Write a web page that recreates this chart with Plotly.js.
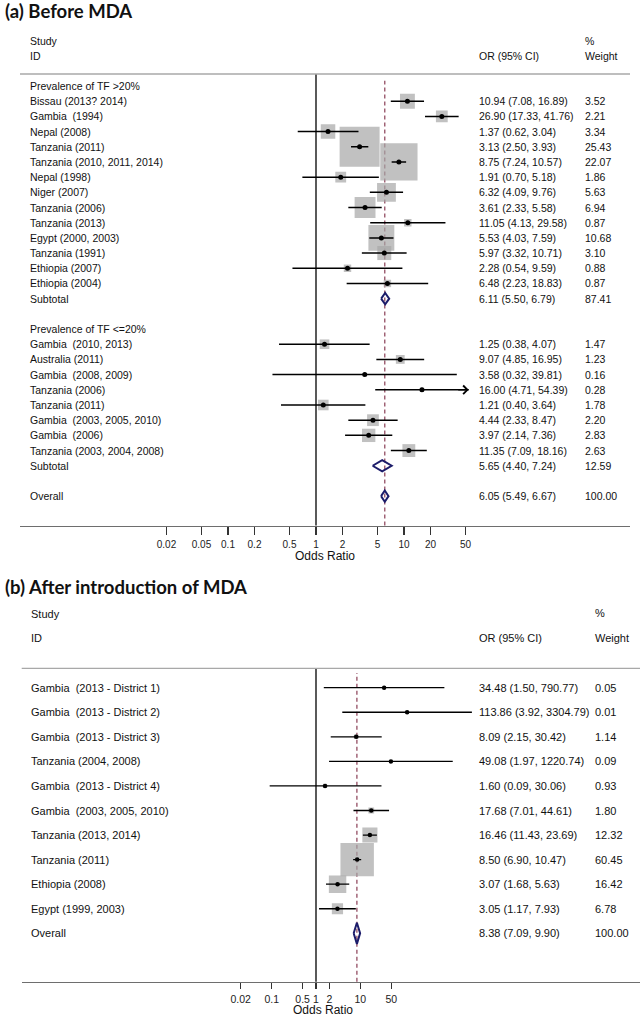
<!DOCTYPE html>
<html>
<head>
<meta charset="utf-8">
<script src="https://cdn.plot.ly/plotly-3.0.1.min.js"></script>
<style>html,body{margin:0;padding:0;background:#fff}#chart{width:644px;height:1019px}</style>
</head>
<body>
<div id="chart"></div>
<script>
// ---------- Panel (a): Before MDA ----------
const labelsA = ["Prevalence of TF >20%", "Bissau (2013? 2014)", "Gambia\u00a0 (1994)", "Nepal (2008)", "Tanzania (2011)",
  "Tanzania (2010, 2011, 2014)", "Nepal (1998)", "Niger (2007)", "Tanzania (2006)", "Tanzania (2013)", "Egypt (2000, 2003)",
  "Tanzania (1991)", "Ethiopia (2007)", "Ethiopia (2004)", "Subtotal", "", "Prevalence of TF <=20%", "Gambia\u00a0 (2010, 2013)",
  "Australia (2011)", "Gambia\u00a0 (2008, 2009)", "Tanzania (2006)", "Tanzania (2011)", "Gambia\u00a0 (2003, 2005, 2010)",
  "Gambia\u00a0 (2006)", "Tanzania (2003, 2004, 2008)", "Subtotal", "", "Overall"];
const kindA = ["head", "study", "study", "study", "study", "study", "study", "study", "study", "study", "study", "study", "study", "study",
  "pooled", "blank", "head", "study", "study", "study", "study", "study", "study", "study", "study", "pooled", "blank", "pooled"];
const orA = [null, 10.94, 26.90, 1.37, 3.13, 8.75, 1.91, 6.32, 3.61, 11.05, 5.53, 5.97, 2.28, 6.48, 6.11, null, null,
  1.25, 9.07, 3.58, 16.00, 1.21, 4.44, 3.97, 11.35, 5.65, null, 6.05];
const loA = [null, 7.08, 17.33, 0.62, 2.50, 7.24, 0.70, 4.09, 2.33, 4.13, 4.03, 3.32, 0.54, 2.23, 5.50, null, null,
  0.38, 4.85, 0.32, 4.71, 0.40, 2.33, 2.14, 7.09, 4.40, null, 5.49];
const hiA = [null, 16.89, 41.76, 3.04, 3.93, 10.57, 5.18, 9.76, 5.58, 29.58, 7.59, 10.71, 9.59, 18.83, 6.79, null, null,
  4.07, 16.95, 39.81, 54.39, 3.64, 8.47, 7.36, 18.16, 7.24, null, 6.67];
const weightA = [null, 3.52, 2.21, 3.34, 25.43, 22.07, 1.86, 5.63, 6.94, 0.87, 10.68, 3.10, 0.88, 0.87, 87.41, null, null,
  1.47, 1.23, 0.16, 0.28, 1.78, 2.20, 2.83, 2.63, 12.59, null, 100.00];
const ticksA = [0.02, 0.05, 0.1, 0.2, 0.5, 1, 2, 5, 10, 20, 50];
const tickTextA = ["0.02", "0.05", "0.1", "0.2", "0.5", "1", "2", "5", "10", "20", "50"];

// ---------- Panel (b): After introduction of MDA ----------
const labelsB = ["Gambia\u00a0 (2013 - District 1)", "Gambia\u00a0 (2013 - District 2)", "Gambia\u00a0 (2013 - District 3)",
  "Tanzania (2004, 2008)", "Gambia\u00a0 (2013 - District 4)", "Gambia\u00a0 (2003, 2005, 2010)", "Tanzania (2013, 2014)",
  "Tanzania (2011)", "Ethiopia (2008)", "Egypt (1999, 2003)", "Overall"];
const kindB = ["study", "study", "study", "study", "study", "study", "study", "study", "study", "study", "pooled"];
const orB = [34.48, 113.86, 8.09, 49.08, 1.60, 17.68, 16.46, 8.50, 3.07, 3.05, 8.38];
const loB = [1.50, 3.92, 2.15, 1.97, 0.09, 7.01, 11.43, 6.90, 1.68, 1.17, 7.09];
const hiB = [790.77, 3304.79, 30.42, 1220.74, 30.06, 44.61, 23.69, 10.47, 5.63, 7.93, 9.90];
const weightB = [0.05, 0.01, 1.14, 0.09, 0.93, 1.80, 12.32, 60.45, 16.42, 6.78, 100.00];
const ticksB = [0.02, 0.1, 0.5, 1, 2, 10, 50];
const tickTextB = ["0.02", "0.1", "0.5", "1", "2", "10", "50"];

const titleA = "(a) Before MDA";
const titleB = "(b) After introduction of MDA";

// ---------- layout helpers ----------
const W = 644, H = 1019;
const TXT = "Arial, Liberation Sans, sans-serif";
const px = p => p / W;
const py = p => 1 - p / H;

const panels = [
  { labels: labelsA, kind: kindA, or: orA, lo: loA, hi: hiA, w: weightA, ticks: ticksA, tickText: tickTextA,
    title: titleA, titleY: 11.5, xa: "x", ya: "y", xDom: [20, 630], yDom: [74, 525.5], row0: 86, rowStep: 15.19,
    decade: 88.0, oneAt: 316, boxK: 7.93, font: 10.5, tickFont: 10, ticklen: 8, labelX: 28, orX: 476.7, wX: 582.7,
    head: { study: 41.3, id: 56, pct: 41.5, orh: 56, wt: 56 }, arrowAbove: 50, dHalf: 0.37, ciW: 1.5, dot: 5,
    xTitleY: 556, xTitleX: 325 },
  { labels: labelsB, kind: kindB, or: orB, lo: loB, hi: hiB, w: weightB, ticks: ticksB, tickText: tickTextB,
    title: titleB, titleY: 586.7, xa: "x2", ya: "y2", xDom: [21.7, 640], yDom: [668.3, 981.7], row0: 687.7, rowStep: 24.56,
    decade: 44.3, oneAt: 316, boxK: 4.3, font: 11, tickFont: 10.5, ticklen: 6, labelX: 29.3, orX: 476.7, wX: 593.3,
    head: { study: 614, id: 638.3, pct: 613, orh: 638, wt: 638 }, arrowAbove: null, dHalf: 0.43, ciW: 1.3, dot: 4.5,
    xTitleY: 1010, xTitleX: 323 }
];

const traces = [], shapes = [], annotations = [];
const layout = {
  width: W, height: H, margin: { l: 0, r: 0, t: 0, b: 0 }, showlegend: false,
  paper_bgcolor: "#fff", plot_bgcolor: "#fff", font: { family: TXT, color: "#111" }
};

panels.forEach((p, pi) => {
  const sfx = pi === 0 ? "" : "2";
  const xr = [(p.xDom[0] - p.oneAt) / p.decade, (p.xDom[1] - p.oneAt) / p.decade];
  const yr = [(p.yDom[1] - p.row0) / p.rowStep, (p.yDom[0] - p.row0) / p.rowStep];
  layout["xaxis" + sfx] = {
    type: "log", range: xr, domain: [px(p.xDom[0]), px(p.xDom[1])], anchor: p.ya,
    tickvals: p.ticks, ticktext: p.tickText, ticks: "outside", ticklen: p.ticklen, tickwidth: 1.3, tickcolor: "#333",
    showline: true, linecolor: "#6e6e6e", linewidth: 1.3, showgrid: false, zeroline: false,
    tickfont: { size: p.tickFont, family: TXT, color: "#222" }, fixedrange: true, ticklabelstandoff: 1
  };
  layout["yaxis" + sfx] = {
    range: yr, domain: [py(p.yDom[1]), py(p.yDom[0])], anchor: p.xa, visible: false, fixedrange: true
  };

  const bx = [], by = [], bs = [];
  const cx = [], cy = [];
  const dx = [], dy = [];
  p.labels.forEach((lab, i) => {
    if (p.kind[i] === "study") {
      bx.push(p.or[i]); by.push(i); bs.push(p.boxK * Math.sqrt(p.w[i]));
      cx.push(p.lo[i], p.hi[i], null); cy.push(i, i, null);
      dx.push(p.or[i]); dy.push(i);
      if (p.arrowAbove !== null && p.hi[i] > p.arrowAbove) {
        annotations.push({ xref: p.xa, yref: p.ya, x: Math.log10(p.hi[i]), y: i, ax: -12, ay: 0, text: "",
          showarrow: true, arrowhead: 4, arrowsize: 1.1, arrowwidth: 1.5, arrowcolor: "#000", standoff: 0 });
      }
    } else if (p.kind[i] === "pooled") {
      const h = p.dHalf;
      traces.push({ type: "scatter", mode: "lines", xaxis: p.xa, yaxis: p.ya, hoverinfo: "skip",
        x: [p.lo[i], p.or[i], p.hi[i], p.or[i], p.lo[i]], y: [i, i - h, i, i + h, i],
        fill: "toself", fillcolor: "rgba(255,255,255,0)", line: { color: "#1c1c6a", width: 2 } });
    }
  });
  traces.unshift({ type: "scatter", mode: "markers", xaxis: p.xa, yaxis: p.ya, x: bx, y: by, hoverinfo: "skip",
    marker: { symbol: "square", size: bs, color: "#a6a6a6", line: { width: 0 } } });
  traces.push({ type: "scatter", mode: "lines", xaxis: p.xa, yaxis: p.ya, x: cx, y: cy, hoverinfo: "skip",
    line: { color: "#000", width: p.ciW } });
  traces.push({ type: "scatter", mode: "markers", xaxis: p.xa, yaxis: p.ya, x: dx, y: dy, hoverinfo: "skip",
    marker: { symbol: "circle", size: p.dot, color: "#000" } });

  const overallIdx = p.kind.lastIndexOf("pooled");
  shapes.push({ type: "line", layer: "below", xref: p.xa, yref: p.ya + " domain", x0: 1, x1: 1, y0: 0, y1: 1,
    line: { color: "#000", width: 1.3 } });
  shapes.push({ type: "line", layer: "below", xref: p.xa, yref: p.ya + " domain", x0: p.or[overallIdx], x1: p.or[overallIdx],
    y0: 0, y1: 0.985, line: { color: "#8a3e55", width: 1.2, dash: "4px,3px" } });
  shapes.push({ type: "line", layer: "below", xref: p.xa + " domain", yref: p.ya + " domain", x0: 0, x1: 1, y0: 1, y1: 1,
    line: { color: "#a8a8a8", width: 1.3 } });

  p.labels.forEach((lab, i) => {
    if (lab) annotations.push({ xref: "paper", yref: p.ya, x: px(p.labelX), y: i, text: lab, showarrow: false,
      xanchor: "left", yanchor: "middle", font: { size: p.font, family: TXT, color: "#111" } });
    if (p.or[i] !== null) {
      annotations.push({ xref: "paper", yref: p.ya, x: px(p.orX), y: i, showarrow: false, xanchor: "left", yanchor: "middle",
        text: p.or[i].toFixed(2) + " (" + p.lo[i].toFixed(2) + ", " + p.hi[i].toFixed(2) + ")",
        font: { size: p.font, family: TXT, color: "#111" } });
      annotations.push({ xref: "paper", yref: p.ya, x: px(p.wX), y: i, showarrow: false, xanchor: "left", yanchor: "middle",
        text: p.w[i].toFixed(2), font: { size: p.font, family: TXT, color: "#111" } });
    }
  });
  const hd = (txt, x, y) => annotations.push({ xref: "paper", yref: "paper", x: px(x), y: py(y), text: txt, showarrow: false,
    xanchor: "left", yanchor: "middle", font: { size: p.font, family: TXT, color: "#111" } });
  hd("Study", p.labelX, p.head.study);
  hd("ID", p.labelX, p.head.id);
  hd("%", p.wX, p.head.pct);
  hd("OR (95% CI)", p.orX, p.head.orh);
  hd("Weight", p.wX, p.head.wt);
  annotations.push({ xref: "paper", yref: "paper", x: px(p.xTitleX), y: py(p.xTitleY), text: "Odds Ratio", showarrow: false,
    xanchor: "center", yanchor: "middle", font: { size: 12, family: TXT, color: "#111" } });
  annotations.push({ xref: "paper", yref: "paper", x: px(3), y: py(p.titleY), text: "<b>" + p.title + "</b>", showarrow: false,
    xanchor: "left", yanchor: "middle", font: { size: 18.5, family: "Lato, Open Sans, sans-serif", color: "#111" } });
});

layout.shapes = shapes;
layout.annotations = annotations;
Plotly.newPlot("chart", traces, layout, { staticPlot: true, displayModeBar: false });
</script>
</body>
</html>
